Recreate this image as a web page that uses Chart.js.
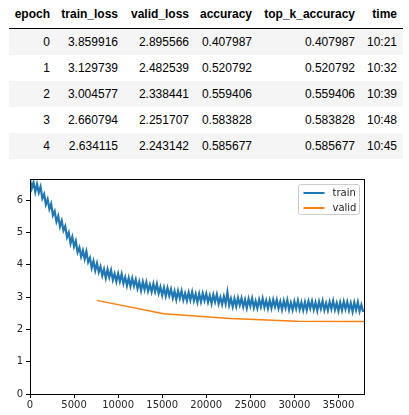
<!DOCTYPE html>
<html>
<head>
<meta charset="utf-8">
<script src="https://cdn.jsdelivr.net/npm/chart.js@4.4.1/dist/chart.umd.min.js"></script>
<style>
  body { margin: 0; background: #fff; width: 409px; height: 415px; overflow: hidden; position: relative; }
  table {
    position: absolute; left: 9px; top: 0;
    border-collapse: collapse; table-layout: fixed;
    font-family: "Liberation Sans", Arial, sans-serif; font-size: 12px; color: #000;
  }
  th { font-weight: bold; height: 28px; padding: 0 6px 0 0; text-align: right; border-bottom: 1px solid #000; white-space: nowrap; }
  td { height: 26px; padding: 0 6px 0 0; text-align: right; white-space: nowrap; }
  tbody tr:nth-child(odd) { background: #f5f5f5; }
  #chart { position: absolute; left: 0; top: 170px; }
</style>
</head>
<body>
<table id="results">
  <colgroup>
    <col style="width:47px"><col style="width:68px"><col style="width:71px">
    <col style="width:63px"><col style="width:103px"><col style="width:42px">
  </colgroup>
  <thead><tr></tr></thead>
  <tbody></tbody>
</table>
<canvas id="chart" width="409" height="245"></canvas>
<script>
// table values
const columns = ["epoch", "train_loss", "valid_loss", "accuracy", "top_k_accuracy", "time"];
const epochs = [0, 1, 2, 3, 4];
const epochTrainLoss = [3.859916, 3.129739, 3.004577, 2.660794, 2.634115];
const epochValidLoss = [2.895566, 2.482539, 2.338441, 2.251707, 2.243142];
const accuracy = [0.407987, 0.520792, 0.559406, 0.583828, 0.585677];
const topKAccuracy = [0.407987, 0.520792, 0.559406, 0.583828, 0.585677];
const times = ["10:21", "10:32", "10:39", "10:48", "10:45"];

// plot values: train loss read every 200 iterations (upper/lower edge of the noisy band),
// valid loss at the end of each epoch
const trainStep = 200;
const trainLoss = [
  6.64, 6.36, 6.55, 6.25, 6.49, 6.23, 6.41, 6.05, 6.18, 5.86,
  6.02, 5.72, 5.88, 5.53, 5.65, 5.33, 5.50, 5.18, 5.36, 5.06,
  5.19, 4.85, 4.99, 4.66, 4.86, 4.56, 4.73, 4.39, 4.53, 4.25,
  4.44, 4.18, 4.41, 4.08, 4.21, 3.90, 4.11, 3.82, 4.04, 3.77,
  3.94, 3.66, 3.86, 3.59, 3.85, 3.61, 3.83, 3.53, 3.72, 3.48,
  3.72, 3.48, 3.71, 3.42, 3.61, 3.35, 3.59, 3.33, 3.58, 3.34,
  3.54, 3.26, 3.47, 3.20, 3.47, 3.23, 3.46, 3.18, 3.38, 3.16,
  3.41, 3.17, 3.40, 3.11, 3.31, 3.05, 3.29, 3.03, 3.28, 3.04,
  3.24, 2.97, 3.18, 2.92, 3.19, 2.96, 3.19, 2.91, 3.11, 2.89,
  3.14, 2.91, 3.16, 2.88, 3.09, 2.84, 3.10, 2.85, 3.11, 2.89,
  3.10, 2.84, 3.05, 2.80, 3.07, 2.85, 3.08, 2.79, 2.99, 2.77,
  3.02, 2.79, 3.15, 2.75, 2.95, 2.70, 2.95, 2.71, 2.97, 2.75,
  2.96, 2.70, 2.92, 2.66, 2.94, 2.72, 2.96, 2.67, 2.88, 2.66,
  2.92, 2.70, 2.95, 2.68, 2.89, 2.65, 2.90, 2.66, 2.92, 2.70,
  2.91, 2.65, 2.86, 2.61, 2.88, 2.66, 2.90, 2.61, 2.82, 2.60,
  2.86, 2.64, 2.89, 2.62, 2.83, 2.59, 2.84, 2.60, 2.87, 2.65,
  2.87, 2.61, 2.83, 2.58, 2.86, 2.64, 2.88, 2.60, 2.81, 2.59,
  2.85, 2.63, 2.88, 2.61, 2.81, 2.57, 2.83, 2.59, 2.86, 2.63,
  2.85, 2.59, 2.81, 2.55, 2.83, 2.60, 2.84, 2.56, 2.76, 2.54
];
const validIter = [7580, 15160, 22740, 30320, 37900];
const validLoss = epochValidLoss;
const xTicks = [0, 5000, 10000, 15000, 20000, 25000, 30000, 35000];

// build the table
const headRow = document.querySelector("#results thead tr");
columns.forEach(c => {
  const th = document.createElement("th");
  th.textContent = c;
  headRow.appendChild(th);
});
const body = document.querySelector("#results tbody");
epochs.forEach((e, i) => {
  const tr = document.createElement("tr");
  [String(e), epochTrainLoss[i].toFixed(6), epochValidLoss[i].toFixed(6),
   accuracy[i].toFixed(6), topKAccuracy[i].toFixed(6), times[i]].forEach(v => {
    const td = document.createElement("td");
    td.textContent = v;
    tr.appendChild(td);
  });
  body.appendChild(tr);
});

const BLUE = "#1f77b4";
const ORANGE = "#ff7f0e";
const TICK_FONT = { family: "DejaVu Sans", size: 10 };

// black frame round the plot area, like matplotlib spines
const frame = {
  id: "frame",
  afterDatasetsDraw(chart) {
    const { ctx, chartArea: a } = chart;
    ctx.save();
    ctx.strokeStyle = "#000";
    ctx.lineWidth = 1;
    ctx.strokeRect(Math.round(a.left) + 0.5, Math.round(a.top) + 0.5,
      Math.round(a.right - a.left), Math.round(a.bottom - a.top));
    ctx.restore();
  }
};

// legend box in the upper right corner
const cornerLegend = {
  id: "cornerLegend",
  afterDraw(chart) {
    const { ctx, chartArea: a } = chart;
    const w = 61, h = 30;
    const x = a.right - 5 - w + 0.5, y = a.top + 5 + 0.5;
    ctx.save();
    ctx.fillStyle = "rgba(255,255,255,0.8)";
    ctx.strokeStyle = "#cccccc";
    ctx.lineWidth = 1;
    ctx.beginPath();
    ctx.roundRect(x, y, w, h, 2);
    ctx.fill();
    ctx.stroke();
    ctx.font = "10px 'DejaVu Sans'";
    ctx.textBaseline = "middle";
    chart.data.datasets.forEach((ds, i) => {
      const ly = y + 8.5 + i * 15;
      ctx.strokeStyle = ds.borderColor;
      ctx.lineWidth = 2;
      ctx.beginPath();
      ctx.moveTo(x + 5, ly);
      ctx.lineTo(x + 26, ly);
      ctx.stroke();
      ctx.fillStyle = "#262626";
      ctx.fillText(ds.label, x + 34, ly);
    });
    ctx.restore();
  }
};

new Chart(document.getElementById("chart"), {
  type: "line",
  data: {
    datasets: [
      {
        label: "train",
        data: trainLoss.map((v, i) => ({ x: i * trainStep, y: v })),
        borderColor: BLUE,
        borderWidth: 2.2,
        pointRadius: 0,
        tension: 0,
      },
      {
        label: "valid",
        data: validLoss.map((v, i) => ({ x: validIter[i], y: v })),
        borderColor: ORANGE,
        borderWidth: 1.5,
        pointRadius: 0,
        tension: 0,
      },
    ],
  },
  options: {
    responsive: false,
    animation: false,
    layout: { padding: { top: 6, right: 45, left: 0, bottom: 0 } },
    plugins: { legend: { display: false }, tooltip: { enabled: false } },
    scales: {
      x: {
        type: "linear",
        min: 0,
        max: 37900,
        afterFit(scale) { scale.height = 21; },
        afterBuildTicks(scale) { scale.ticks = xTicks.map(v => ({ value: v })); },
        ticks: {
          font: TICK_FONT, color: "#262626", padding: 1, maxRotation: 0,
          includeBounds: false,
          callback: v => String(v),
        },
        grid: { drawOnChartArea: false, color: "#000", tickLength: 4 },
        border: { color: "#000" },
      },
      y: {
        min: 0,
        max: 6.65,
        afterFit(scale) { scale.width = 30; },
        ticks: {
          stepSize: 1, font: TICK_FONT, color: "#262626", padding: 3,
          includeBounds: false,
        },
        grid: { drawOnChartArea: false, color: "#000", tickLength: 4 },
        border: { color: "#000" },
      },
    },
  },
  plugins: [frame, cornerLegend],
});
</script>
</body>
</html>
